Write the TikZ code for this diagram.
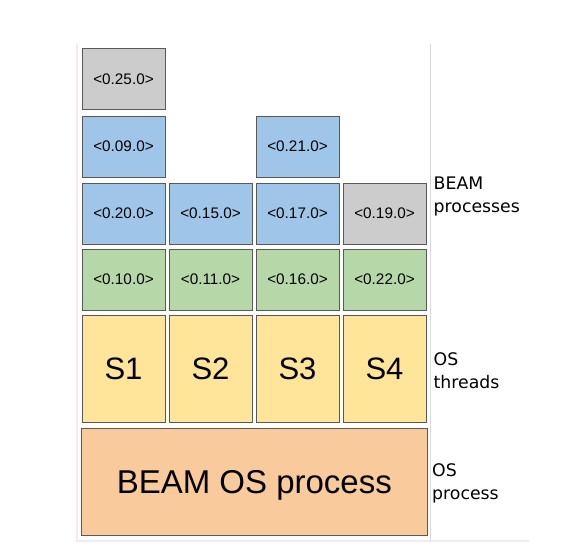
\documentclass[tikz,border=0pt]{standalone}
\usepackage{fontspec}
\setmainfont{Liberation Sans}
\newfontfamily\sidefont{DejaVu Sans}
\usepackage{tikz}
\usetikzlibrary{positioning}
\definecolor{procgray}{HTML}{CCCCCC}
\definecolor{procblue}{HTML}{9FC5E8}
\definecolor{procgreen}{HTML}{B6D7A8}
\definecolor{thryellow}{HTML}{FFE599}
\definecolor{osorange}{HTML}{F9CB9C}
\definecolor{edgegray}{HTML}{595959}
\definecolor{framepink}{HTML}{F3E8F3}
\definecolor{framegray}{HTML}{D9D9D9}
\tikzset{
  cell/.style={draw=edgegray, line width=0.8pt, inner sep=0pt,
    minimum width=83pt, minimum height=61pt, font=\fontsize{15.3}{18}\selectfont},
  thread/.style={cell, fill=thryellow, minimum height=107pt, font=\fontsize{31}{36}\selectfont},
  sidelabel/.style={anchor=west, align=left, inner sep=0pt, font=\sidefont\fontsize{17.3}{23}\selectfont}
}

\begin{document}
\begin{tikzpicture}[x=1pt, y=-1pt]
    \useasboundingbox (0,0) rectangle (584,549);
    % faint frame
    \draw[framepink, line width=1.2pt] (77,44) -- (77,541) -- (529,541);
    \draw[framegray, line width=1.2pt] (430.5,44) -- (430.5,541);
    % BEAM processes, top down
    \node[cell, fill=procgray] (p25) at (123.5,79) {<0.25.0>};
    \node[cell, fill=procblue] (p09) at (123.5,146.5) {<0.09.0>};
    \node[cell, fill=procblue] (p21) at (297.5,146.5) {<0.21.0>};
    \foreach \pid/\clr [count=\i] in {20/procblue,15/procblue,17/procblue,19/procgray}
        \node[cell, fill=\clr] (p\pid) at ({123.5+87*(\i-1)},213.7) {<0.\pid.0>};
    \foreach \pid [count=\i] in {10,11,16,22}
        \node[cell, fill=procgreen] (p\pid) at ({123.5+87*(\i-1)},279.7) {<0.\pid.0>};
    % schedulers
    \foreach \i in {1,...,4}
        \node[thread] (s\i) at ({123.5+87*(\i-1)},369.2) {S\i};
    % the VM itself
    \node[cell, fill=osorange, minimum width=345.5pt, minimum height=107.5pt, text depth=0pt,
          font=\fontsize{33}{38}\selectfont] (vm) at (254.3,482) {BEAM OS process};
    \node[sidelabel] (beamlbl) at (433.5,196) {BEAM\\processes};
    \node[sidelabel] (thrlbl) at (433.5,370.5) {OS\\threads};
    \node[sidelabel] (oslbl) at (432,483.5) {OS\\process};
\end{tikzpicture}
\end{document}
